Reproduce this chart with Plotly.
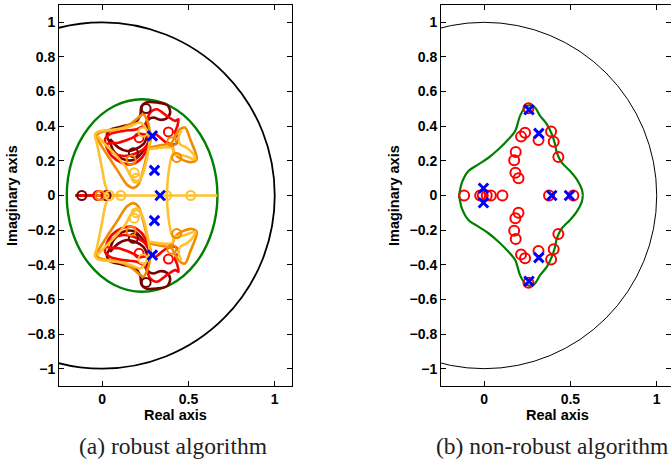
import plotly.graph_objects as go

# ---------------- data: left panel (robust algorithm), upper half; lower half is the conjugate ----------------
maroon_re = [0.027, 0.046, 0.114, 0.191, 0.220, 0.228, 0.255, 0.317, 0.378, 0.394, 0.371, 0.336, 0.297, 0.268,
             0.262, 0.282, 0.262, 0.230, 0.181, 0.114, 0.066, 0.046, 0.027]
maroon_im = [0.344, 0.379, 0.398, 0.421, 0.460, 0.514, 0.537, 0.537, 0.522, 0.479, 0.444, 0.437, 0.450, 0.437,
             0.392, 0.344, 0.296, 0.247, 0.205, 0.213, 0.257, 0.305, 0.344]
maroon2_re = [0.046, 0.095, 0.143, 0.191, 0.239, 0.262]
maroon2_im = [0.325, 0.276, 0.257, 0.267, 0.296, 0.344]
red_re = [0.017, 0.046, 0.124, 0.201, 0.249, 0.278, 0.317, 0.374, 0.423, 0.442, 0.436, 0.423, 0.442, 0.423,
          0.374, 0.336, 0.307, 0.278, 0.262, 0.230, 0.172, 0.114, 0.056, 0.027, 0.017]
red_im = [0.325, 0.354, 0.373, 0.383, 0.412, 0.479, 0.498, 0.460, 0.431, 0.440, 0.402, 0.363, 0.325, 0.296,
          0.305, 0.334, 0.354, 0.325, 0.276, 0.218, 0.180, 0.189, 0.228, 0.276, 0.325]
red2_re = [0.027, 0.095, 0.162, 0.220, 0.262, 0.268, 0.239, 0.181, 0.124, 0.066, 0.027]
red2_im = [0.296, 0.305, 0.328, 0.354, 0.344, 0.305, 0.267, 0.238, 0.228, 0.247, 0.296]
orange_re = [-0.035, -0.002, 0.085, 0.162, 0.210, 0.239, 0.262, 0.278, 0.282, 0.262, 0.239, 0.210, 0.181, 0.143,
             0.085, 0.027, -0.015, -0.035]
orange_im = [0.344, 0.367, 0.379, 0.412, 0.450, 0.469, 0.431, 0.363, 0.325, 0.247, 0.151, 0.064, 0.044, 0.064,
             0.151, 0.238, 0.305, 0.344]
orange2_re = [0.268, 0.336, 0.403, 0.423, 0.452, 0.481, 0.510, 0.548, 0.519, 0.461, 0.423, 0.403]
orange2_im = [0.276, 0.290, 0.305, 0.344, 0.383, 0.392, 0.325, 0.209, 0.193, 0.209, 0.238, 0.305]
gold_re = [0.042, 0.017, 0.002, -0.015, -0.031, -0.042, -0.027, 0.046, 0.143, 0.220, 0.255, 0.274, 0.262, 0.230,
           0.201, 0.172, 0.133, 0.066, 0.008, -0.027]
gold_im = [0.0, 0.064, 0.141, 0.228, 0.305, 0.348, 0.367, 0.379, 0.392, 0.421, 0.383, 0.325, 0.228, 0.112,
           0.083, 0.102, 0.170, 0.247, 0.305, 0.344]
gold2_re = [0.374, 0.378, 0.386, 0.400, 0.413, 0.403, 0.336, 0.278]
gold2_im = [0.0, 0.064, 0.141, 0.218, 0.251, 0.276, 0.276, 0.267]
gold3_re = [0.423, 0.481, 0.539, 0.529, 0.490, 0.452, 0.442, 0.461]
gold3_im = [0.238, 0.228, 0.209, 0.238, 0.276, 0.296, 0.334, 0.373]

# real-axis segments of the loci
axis_maroon = [-0.156, 0.023]
axis_red = [-0.140, -0.020]
axis_orange = [-0.030, 0.110]
axis_gold = [0.042, 0.668]

# open-circle markers (zeros) per colour, upper half incl. real axis
zm_re = [0.255, 0.181, -0.118, 0.023]
zm_im = [0.502, 0.247, 0.0, 0.0]
zr_re = [0.214, 0.384, -0.025]
zr_im = [0.334, 0.367, 0.0]
zo_re = [0.403, 0.168, 0.432, -0.012]
zo_im = [0.311, 0.205, 0.220, 0.0]
zg_re = [0.236, 0.186, 0.197, 0.042, 0.108, 0.374, 0.513]
zg_im = [0.367, 0.131, 0.099, 0.0, 0.0, 0.0, 0.0]

# poles (blue crosses), left panel, upper half
pa_re = [0.291, 0.303, 0.336]
pa_im = [0.344, 0.145, 0.0]

# green ellipse (left) bounding box
ell_x = [-0.205, 0.668]
ell_y = [-0.556, 0.556]

# ---------------- data: right panel (non-robust algorithm) ----------------
gb_re = [-0.145, -0.129, -0.091, -0.033, 0.025, 0.083, 0.141, 0.180, 0.208, 0.237, 0.266, 0.295, 0.324, 0.363,
         0.392, 0.411, 0.421, 0.450, 0.498, 0.537, 0.566, 0.572]
gb_im = [0.0, 0.074, 0.141, 0.180, 0.218, 0.267, 0.325, 0.373, 0.460, 0.508, 0.522, 0.508, 0.460, 0.412,
         0.354, 0.296, 0.248, 0.190, 0.141, 0.093, 0.035, 0.0]
zb_re = [0.257, 0.237, 0.214, 0.315, 0.388, 0.403, 0.430, 0.183, 0.174, 0.181, 0.199,
         -0.116, -0.023, -0.008, 0.015, 0.039, 0.106, 0.376, 0.517]
zb_im = [0.504, 0.363, 0.340, 0.321, 0.369, 0.311, 0.222, 0.251, 0.203, 0.132, 0.099,
         0.0, 0.0, 0.0, 0.0, 0.0, 0.0, 0.0, 0.0]
pb_re = [0.260, 0.317, -0.004, 0.392, 0.494]
pb_im = [0.495, 0.359, 0.042, 0.0, 0.0]

y_ticks = [1, 0.8, 0.6, 0.4, 0.2, 0, -0.2, -0.4, -0.6, -0.8, -1]
y_ticktext = ["1", "0.8", "0.6", "0.4", "0.2", "0", "\u22120.2", "\u22120.4", "\u22120.6", "\u22120.8", "\u22121"]
x_ticks = [0, 0.5, 1]
x_ticktext = ["0", "0.5", "1"]

MAROON = "#7a0000"
RED = "#ff0000"
ORANGE = "#f08c00"
GOLD = "#ffc22e"
BLUE = "#0000ff"
GREEN = "#008000"


def conj(re, im):
    """closed path: upper half followed by its complex conjugate"""
    return list(re) + [None] + list(re), list(im) + [None] + [-v for v in im]


fig = go.Figure()


def curve(re, im, color, xa, ya, width=2.6, mirror=True):
    if mirror:
        re, im = conj(re, im)
    fig.add_trace(go.Scatter(x=re, y=im, mode="lines", line=dict(color=color, width=width, shape="spline", smoothing=0.9),
                             xaxis=xa, yaxis=ya, hoverinfo="skip", connectgaps=False))


def marks(re, im, color, symbol, xa, ya, size, lw):
    re2, im2 = [], []
    for r, i in zip(re, im):
        re2.append(r); im2.append(i)
        if i != 0:
            re2.append(r); im2.append(-i)
    fig.add_trace(go.Scatter(x=re2, y=im2, mode="markers",
                             marker=dict(symbol=symbol, size=size, color=color, line=dict(color=color, width=lw)),
                             xaxis=xa, yaxis=ya, hoverinfo="skip"))


# left panel loci
fig.add_trace(go.Scatter(x=axis_maroon, y=[0, 0], mode="lines", line=dict(color=MAROON, width=2.6), xaxis="x", yaxis="y"))
fig.add_trace(go.Scatter(x=axis_red, y=[0, 0], mode="lines", line=dict(color=RED, width=2.6), xaxis="x", yaxis="y"))
fig.add_trace(go.Scatter(x=axis_orange, y=[0, 0], mode="lines", line=dict(color=ORANGE, width=2.6), xaxis="x", yaxis="y"))
curve(maroon_re, maroon_im, MAROON, "x", "y")
curve(maroon2_re, maroon2_im, MAROON, "x", "y")
curve(red_re, red_im, RED, "x", "y")
curve(red2_re, red2_im, RED, "x", "y")
curve(orange_re, orange_im, ORANGE, "x", "y")
curve(orange2_re, orange2_im, ORANGE, "x", "y")
curve(gold_re, gold_im, GOLD, "x", "y")
curve(gold2_re, gold2_im, GOLD, "x", "y")
curve(gold3_re, gold3_im, GOLD, "x", "y")
fig.add_trace(go.Scatter(x=axis_gold, y=[0, 0], mode="lines", line=dict(color=GOLD, width=2.6), xaxis="x", yaxis="y"))

marks(zm_re, zm_im, MAROON, "circle-open", "x", "y", 9, 2)
marks(zr_re, zr_im, RED, "circle-open", "x", "y", 9, 2)
marks(zo_re, zo_im, ORANGE, "circle-open", "x", "y", 9, 2)
marks(zg_re, zg_im, GOLD, "circle-open", "x", "y", 9, 2)
marks(pa_re, pa_im, BLUE, "x-thin-open", "x", "y", 9.5, 3)

# right panel
curve(gb_re, gb_im, GREEN, "x2", "y2", width=2.2)
marks(zb_re, zb_im, RED, "circle-open", "x2", "y2", 10, 2)
marks(pb_re, pb_im, BLUE, "x-thin-open", "x2", "y2", 9.5, 3)

# circles as shapes in data coordinates
unit = dict(type="circle", x0=-1, x1=1, y0=-1, y1=1)
fig.add_shape(**unit, xref="x", yref="y", line=dict(color="black", width=1.8), layer="below")
fig.add_shape(type="circle", x0=ell_x[0], x1=ell_x[1], y0=ell_y[0], y1=ell_y[1], xref="x", yref="y",
              line=dict(color=GREEN, width=2.4), layer="below")
fig.add_shape(**unit, xref="x2", yref="y2", line=dict(color="black", width=1), layer="below")

tickfont = dict(family="Liberation Sans, Arial, sans-serif", size=14, color="black", weight="bold")
ax_common = dict(showgrid=False, zeroline=False, showline=True, linecolor="black", linewidth=1,
                 ticks="inside", ticklen=5, tickcolor="black", mirror="ticks", tickfont=tickfont)
ydom = [1 - 386 / 460, 1 - 5 / 460]

fig.update_layout(
    width=671, height=460, margin=dict(l=0, r=0, t=0, b=0),
    paper_bgcolor="white", plot_bgcolor="white", showlegend=False,
    xaxis=dict(domain=[59 / 671, 292 / 671], range=[-0.25, 1.1], anchor="y", tickvals=x_ticks, ticktext=x_ticktext, **ax_common),
    yaxis=dict(domain=ydom, range=[-1.1, 1.1], anchor="x", tickvals=y_ticks, ticktext=y_ticktext, **ax_common),
    xaxis2=dict(domain=[441 / 671, 1.0], range=[-0.25, (671 - 484) / 172.7], anchor="y2", tickvals=x_ticks, ticktext=x_ticktext, **ax_common),
    yaxis2=dict(domain=ydom, range=[-1.1, 1.1], anchor="x2", tickvals=y_ticks, ticktext=y_ticktext, **ax_common),
)

labfont = dict(family="Liberation Sans, Arial, sans-serif", size=14.5, color="black", weight="bold")
capfont = dict(family="Liberation Serif, Times New Roman, serif", size=23.5, color="#222")
ann = [
    dict(text="Real axis", x=175.5 / 671, y=1 - 415 / 460, font=labfont),
    dict(text="Real axis", x=557.5 / 671, y=1 - 415 / 460, font=labfont),
    dict(text="Imaginary axis", x=12 / 671, y=1 - 196 / 460, font=labfont, textangle=-90),
    dict(text="Imaginary axis", x=394 / 671, y=1 - 196 / 460, font=labfont, textangle=-90),
    dict(text="(a) robust algorithm", x=172.5 / 671, y=1 - 446 / 460, font=capfont),
    dict(text="(b) non-robust algorithm", x=551.7 / 671, y=1 - 446 / 460, font=capfont),
]
for a in ann:
    fig.add_annotation(xref="paper", yref="paper", xanchor="center", yanchor="middle", showarrow=False, **a)

fig.write_html("out.html", config={"displayModeBar": False},
               post_script="document.body.style.margin='0px';document.body.style.overflow='hidden';")
